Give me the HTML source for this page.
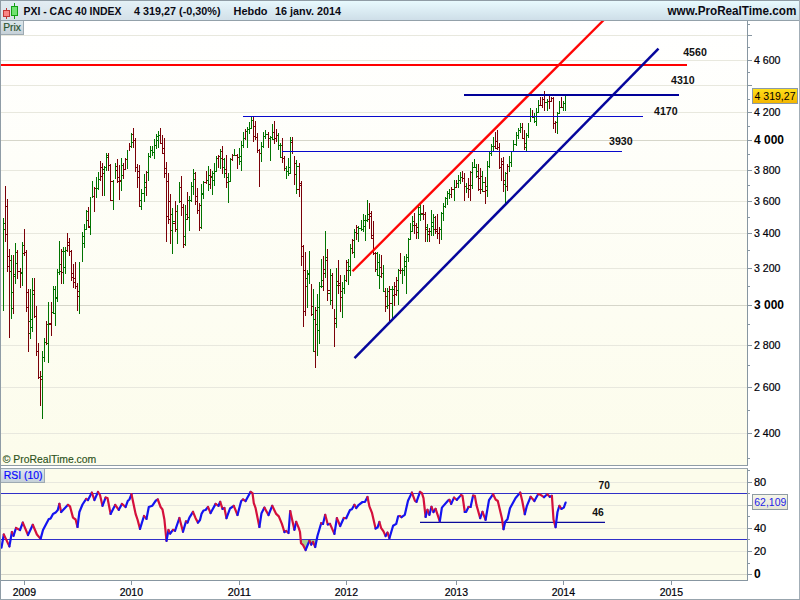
<!DOCTYPE html><html><head><meta charset="utf-8"><title>PXI - CAC 40 INDEX</title>
<style>html,body{margin:0;padding:0;background:#fff}body{width:800px;height:600px;overflow:hidden}svg{display:block}text{font-family:"Liberation Sans",Arial,sans-serif}.ax{font-size:11px;fill:#000008;stroke:#000008;stroke-width:.22px}.axb{font-size:12px;font-weight:bold;fill:#000}.lb{font-size:10px;font-weight:bold;fill:#111}</style></head><body>
<svg width="800" height="600" viewBox="0 0 800 600">
<defs><linearGradient id="hd" x1="0" y1="0" x2="1" y2="0"><stop offset="0" stop-color="#d2dee8"/><stop offset="1" stop-color="#e6f2f8"/></linearGradient><linearGradient id="hdv" x1="0" y1="0" x2="0" y2="1"><stop offset="0" stop-color="#c4d6e2" stop-opacity=".55"/><stop offset="1" stop-color="#ffffff" stop-opacity=".25"/></linearGradient><linearGradient id="hl" x1="0" y1="0" x2="0" y2="1"><stop offset="0" stop-color="#e3ecf2"/><stop offset="1" stop-color="#d8e2e9"/></linearGradient><linearGradient id="hr" x1="0" y1="0" x2="0" y2="1"><stop offset="0" stop-color="#e9fbff"/><stop offset="1" stop-color="#cddde7"/></linearGradient><linearGradient id="hmg" x1="0" y1="0" x2="1" y2="0"><stop offset="0" stop-color="#000"/><stop offset=".4" stop-color="#fff"/></linearGradient><mask id="hm" maskUnits="userSpaceOnUse" x="0" y="0" width="800" height="21"><rect x="0" y="0" width="800" height="21" fill="url(#hmg)"/></mask><linearGradient id="bg" x1="0" y1="0" x2="0" y2="1"><stop offset="0" stop-color="#ffffff"/><stop offset="1" stop-color="#fcfceb"/></linearGradient><linearGradient id="tab" x1="0" y1="0" x2="0" y2="1"><stop offset="0" stop-color="#dde7ec"/><stop offset="1" stop-color="#c4cfd7"/></linearGradient><linearGradient id="yl" x1="0" y1="0" x2="0" y2="1"><stop offset="0" stop-color="#ffe11a"/><stop offset="1" stop-color="#f3b400"/></linearGradient><linearGradient id="rl" x1="0" y1="0" x2="0" y2="1"><stop offset="0" stop-color="#f6f6ea"/><stop offset="1" stop-color="#e6e6d4"/></linearGradient><clipPath id="cp"><rect x="1" y="21" width="746" height="444"/></clipPath><clipPath id="cr"><rect x="1" y="469" width="746" height="111"/></clipPath></defs>
<rect x="0" y="0" width="800" height="600" fill="#fff"/>
<rect x="0" y="0" width="800" height="21" fill="url(#hl)"/>
<rect x="0" y="0" width="800" height="21" fill="url(#hr)" mask="url(#hm)"/>
<g shape-rendering="crispEdges">
<rect x="0" y="0" width="800" height="1" fill="#8f9ca5"/>
<rect x="0" y="20" width="800" height="1" fill="#93a1aa"/>
<rect x="1" y="21" width="746" height="444" fill="url(#bg)"/>
<rect x="1" y="469" width="746" height="111" fill="#fcfceb"/>
<rect x="1" y="433" width="746" height="1" fill="#e8e8de"/>
<rect x="1" y="387" width="746" height="1" fill="#e8e8de"/>
<rect x="1" y="345" width="746" height="1" fill="#e8e8de"/>
<rect x="1" y="305" width="746" height="1" fill="#d6d6ca"/>
<rect x="1" y="268" width="746" height="1" fill="#e8e8de"/>
<rect x="1" y="233" width="746" height="1" fill="#e8e8de"/>
<rect x="1" y="201" width="746" height="1" fill="#e8e8de"/>
<rect x="1" y="170" width="746" height="1" fill="#e8e8de"/>
<rect x="1" y="140" width="746" height="1" fill="#d6d6ca"/>
<rect x="1" y="112" width="746" height="1" fill="#e8e8de"/>
<rect x="1" y="85" width="746" height="1" fill="#e8e8de"/>
<rect x="1" y="60" width="746" height="1" fill="#e8e8de"/>
<rect x="1" y="35" width="746" height="1" fill="#e8e8de"/>
<rect x="1" y="574" width="746" height="1" fill="#d6d6ca"/>
<rect x="1" y="551" width="746" height="1" fill="#e8e8de"/>
<rect x="1" y="528" width="746" height="1" fill="#e8e8de"/>
<rect x="1" y="505" width="746" height="1" fill="#e8e8de"/>
<rect x="1" y="482" width="746" height="1" fill="#e8e8de"/>
</g>
<g shape-rendering="crispEdges" clip-path="url(#cp)">
<rect x="3" y="218" width="1" height="93" fill="#007300"/>
<rect x="4" y="223" width="1" height="1" fill="#007300"/>
<rect x="4" y="229" width="1" height="1" fill="#007300"/>
<rect x="5" y="186" width="1" height="56" fill="#7a0008"/>
<rect x="6" y="206" width="1" height="1" fill="#7a0008"/>
<rect x="6" y="234" width="1" height="1" fill="#7a0008"/>
<rect x="7" y="199" width="1" height="73" fill="#7a0008"/>
<rect x="8" y="256" width="1" height="1" fill="#7a0008"/>
<rect x="8" y="266" width="1" height="1" fill="#7a0008"/>
<rect x="9" y="249" width="1" height="89" fill="#7a0008"/>
<rect x="10" y="260" width="1" height="1" fill="#7a0008"/>
<rect x="10" y="271" width="1" height="1" fill="#7a0008"/>
<rect x="11" y="255" width="1" height="64" fill="#007300"/>
<rect x="12" y="292" width="1" height="1" fill="#007300"/>
<rect x="12" y="308" width="1" height="1" fill="#007300"/>
<rect x="13" y="255" width="1" height="59" fill="#7a0008"/>
<rect x="14" y="274" width="1" height="1" fill="#007300"/>
<rect x="14" y="276" width="1" height="1" fill="#007300"/>
<rect x="15" y="243" width="1" height="41" fill="#007300"/>
<rect x="16" y="252" width="1" height="1" fill="#7a0008"/>
<rect x="16" y="263" width="1" height="1" fill="#007300"/>
<rect x="17" y="250" width="1" height="29" fill="#7a0008"/>
<rect x="18" y="271" width="2" height="1" fill="#7a0008"/>
<rect x="20" y="268" width="1" height="20" fill="#7a0008"/>
<rect x="21" y="272" width="1" height="1" fill="#007300"/>
<rect x="21" y="273" width="1" height="1" fill="#007300"/>
<rect x="22" y="242" width="1" height="44" fill="#007300"/>
<rect x="23" y="245" width="1" height="1" fill="#007300"/>
<rect x="23" y="253" width="1" height="1" fill="#7a0008"/>
<rect x="24" y="229" width="1" height="27" fill="#7a0008"/>
<rect x="25" y="252" width="1" height="1" fill="#7a0008"/>
<rect x="26" y="250" width="1" height="62" fill="#7a0008"/>
<rect x="27" y="292" width="1" height="1" fill="#7a0008"/>
<rect x="27" y="307" width="1" height="1" fill="#7a0008"/>
<rect x="28" y="289" width="1" height="63" fill="#7a0008"/>
<rect x="29" y="321" width="1" height="1" fill="#007300"/>
<rect x="29" y="333" width="1" height="1" fill="#007300"/>
<rect x="30" y="289" width="1" height="50" fill="#007300"/>
<rect x="31" y="319" width="1" height="1" fill="#007300"/>
<rect x="31" y="327" width="1" height="1" fill="#007300"/>
<rect x="32" y="278" width="1" height="54" fill="#007300"/>
<rect x="33" y="290" width="1" height="1" fill="#7a0008"/>
<rect x="33" y="294" width="1" height="1" fill="#007300"/>
<rect x="34" y="278" width="1" height="40" fill="#7a0008"/>
<rect x="35" y="316" width="1" height="1" fill="#7a0008"/>
<rect x="36" y="306" width="1" height="50" fill="#7a0008"/>
<rect x="37" y="351" width="1" height="1" fill="#7a0008"/>
<rect x="38" y="343" width="1" height="36" fill="#7a0008"/>
<rect x="39" y="377" width="1" height="1" fill="#7a0008"/>
<rect x="40" y="371" width="1" height="35" fill="#7a0008"/>
<rect x="41" y="376" width="1" height="1" fill="#007300"/>
<rect x="41" y="379" width="1" height="1" fill="#7a0008"/>
<rect x="42" y="351" width="1" height="68" fill="#007300"/>
<rect x="43" y="357" width="1" height="1" fill="#007300"/>
<rect x="44" y="338" width="1" height="24" fill="#007300"/>
<rect x="45" y="342" width="1" height="1" fill="#007300"/>
<rect x="46" y="321" width="1" height="24" fill="#7a0008"/>
<rect x="47" y="324" width="1" height="1" fill="#007300"/>
<rect x="47" y="343" width="1" height="1" fill="#007300"/>
<rect x="48" y="302" width="1" height="61" fill="#007300"/>
<rect x="49" y="323" width="2" height="1" fill="#7a0008"/>
<rect x="49" y="324" width="2" height="1" fill="#7a0008"/>
<rect x="51" y="302" width="1" height="34" fill="#7a0008"/>
<rect x="52" y="312" width="1" height="1" fill="#007300"/>
<rect x="53" y="286" width="1" height="28" fill="#007300"/>
<rect x="54" y="289" width="1" height="1" fill="#007300"/>
<rect x="54" y="313" width="1" height="1" fill="#007300"/>
<rect x="55" y="286" width="1" height="40" fill="#007300"/>
<rect x="56" y="297" width="1" height="1" fill="#007300"/>
<rect x="56" y="298" width="1" height="1" fill="#007300"/>
<rect x="57" y="269" width="1" height="33" fill="#007300"/>
<rect x="58" y="272" width="1" height="1" fill="#007300"/>
<rect x="59" y="241" width="1" height="34" fill="#007300"/>
<rect x="60" y="264" width="1" height="1" fill="#007300"/>
<rect x="60" y="271" width="1" height="1" fill="#007300"/>
<rect x="61" y="249" width="1" height="35" fill="#7a0008"/>
<rect x="62" y="251" width="1" height="1" fill="#007300"/>
<rect x="62" y="272" width="1" height="1" fill="#7a0008"/>
<rect x="63" y="247" width="1" height="37" fill="#007300"/>
<rect x="64" y="251" width="1" height="1" fill="#007300"/>
<rect x="64" y="267" width="1" height="1" fill="#007300"/>
<rect x="65" y="247" width="1" height="27" fill="#007300"/>
<rect x="66" y="250" width="1" height="1" fill="#007300"/>
<rect x="67" y="233" width="1" height="19" fill="#7a0008"/>
<rect x="68" y="242" width="1" height="1" fill="#7a0008"/>
<rect x="68" y="245" width="1" height="1" fill="#7a0008"/>
<rect x="69" y="238" width="1" height="18" fill="#7a0008"/>
<rect x="70" y="251" width="1" height="1" fill="#7a0008"/>
<rect x="71" y="250" width="1" height="31" fill="#7a0008"/>
<rect x="72" y="273" width="1" height="1" fill="#7a0008"/>
<rect x="72" y="277" width="1" height="1" fill="#7a0008"/>
<rect x="73" y="264" width="1" height="24" fill="#7a0008"/>
<rect x="74" y="278" width="1" height="1" fill="#7a0008"/>
<rect x="74" y="282" width="1" height="1" fill="#7a0008"/>
<rect x="75" y="262" width="1" height="27" fill="#7a0008"/>
<rect x="76" y="286" width="1" height="1" fill="#7a0008"/>
<rect x="77" y="283" width="1" height="28" fill="#7a0008"/>
<rect x="78" y="291" width="1" height="1" fill="#7a0008"/>
<rect x="78" y="296" width="1" height="1" fill="#7a0008"/>
<rect x="79" y="262" width="1" height="52" fill="#007300"/>
<rect x="82" y="232" width="1" height="30" fill="#007300"/>
<rect x="83" y="236" width="1" height="1" fill="#007300"/>
<rect x="83" y="243" width="1" height="1" fill="#007300"/>
<rect x="84" y="224" width="1" height="24" fill="#007300"/>
<rect x="85" y="229" width="1" height="1" fill="#007300"/>
<rect x="86" y="210" width="1" height="20" fill="#007300"/>
<rect x="87" y="211" width="1" height="1" fill="#007300"/>
<rect x="87" y="220" width="1" height="1" fill="#7a0008"/>
<rect x="88" y="207" width="1" height="21" fill="#7a0008"/>
<rect x="89" y="226" width="1" height="1" fill="#7a0008"/>
<rect x="89" y="227" width="1" height="1" fill="#7a0008"/>
<rect x="90" y="197" width="1" height="38" fill="#007300"/>
<rect x="92" y="181" width="1" height="17" fill="#007300"/>
<rect x="93" y="196" width="1" height="1" fill="#7a0008"/>
<rect x="94" y="187" width="1" height="25" fill="#7a0008"/>
<rect x="95" y="188" width="1" height="1" fill="#7a0008"/>
<rect x="96" y="177" width="1" height="21" fill="#007300"/>
<rect x="97" y="188" width="1" height="1" fill="#007300"/>
<rect x="98" y="172" width="1" height="18" fill="#007300"/>
<rect x="99" y="179" width="1" height="1" fill="#007300"/>
<rect x="100" y="161" width="1" height="20" fill="#7a0008"/>
<rect x="101" y="167" width="1" height="1" fill="#7a0008"/>
<rect x="101" y="176" width="1" height="1" fill="#7a0008"/>
<rect x="102" y="163" width="1" height="33" fill="#7a0008"/>
<rect x="103" y="169" width="1" height="1" fill="#007300"/>
<rect x="103" y="173" width="1" height="1" fill="#7a0008"/>
<rect x="104" y="166" width="1" height="30" fill="#007300"/>
<rect x="105" y="167" width="1" height="1" fill="#007300"/>
<rect x="106" y="153" width="1" height="18" fill="#007300"/>
<rect x="107" y="155" width="1" height="1" fill="#007300"/>
<rect x="107" y="157" width="1" height="1" fill="#007300"/>
<rect x="108" y="153" width="1" height="18" fill="#7a0008"/>
<rect x="109" y="165" width="1" height="1" fill="#7a0008"/>
<rect x="110" y="164" width="1" height="37" fill="#7a0008"/>
<rect x="111" y="181" width="2" height="1" fill="#7a0008"/>
<rect x="111" y="200" width="2" height="1" fill="#7a0008"/>
<rect x="113" y="180" width="1" height="30" fill="#007300"/>
<rect x="115" y="163" width="1" height="16" fill="#007300"/>
<rect x="116" y="166" width="1" height="1" fill="#7a0008"/>
<rect x="116" y="170" width="1" height="1" fill="#7a0008"/>
<rect x="117" y="159" width="1" height="24" fill="#7a0008"/>
<rect x="118" y="177" width="1" height="1" fill="#7a0008"/>
<rect x="118" y="181" width="1" height="1" fill="#7a0008"/>
<rect x="119" y="165" width="1" height="35" fill="#7a0008"/>
<rect x="120" y="180" width="1" height="1" fill="#7a0008"/>
<rect x="120" y="181" width="1" height="1" fill="#7a0008"/>
<rect x="121" y="158" width="1" height="33" fill="#007300"/>
<rect x="122" y="165" width="1" height="1" fill="#007300"/>
<rect x="122" y="175" width="1" height="1" fill="#007300"/>
<rect x="123" y="163" width="1" height="16" fill="#7a0008"/>
<rect x="124" y="169" width="1" height="1" fill="#7a0008"/>
<rect x="125" y="158" width="1" height="12" fill="#7a0008"/>
<rect x="126" y="159" width="1" height="1" fill="#7a0008"/>
<rect x="127" y="150" width="1" height="19" fill="#007300"/>
<rect x="129" y="143" width="1" height="8" fill="#7a0008"/>
<rect x="130" y="146" width="1" height="1" fill="#7a0008"/>
<rect x="131" y="133" width="1" height="15" fill="#007300"/>
<rect x="132" y="134" width="1" height="1" fill="#7a0008"/>
<rect x="132" y="142" width="1" height="1" fill="#007300"/>
<rect x="133" y="128" width="1" height="20" fill="#7a0008"/>
<rect x="134" y="140" width="1" height="1" fill="#7a0008"/>
<rect x="135" y="138" width="1" height="34" fill="#7a0008"/>
<rect x="136" y="167" width="1" height="1" fill="#7a0008"/>
<rect x="137" y="164" width="1" height="24" fill="#7a0008"/>
<rect x="138" y="171" width="1" height="1" fill="#7a0008"/>
<rect x="138" y="177" width="1" height="1" fill="#7a0008"/>
<rect x="139" y="165" width="1" height="42" fill="#7a0008"/>
<rect x="140" y="200" width="1" height="1" fill="#007300"/>
<rect x="140" y="206" width="1" height="1" fill="#007300"/>
<rect x="141" y="189" width="1" height="21" fill="#007300"/>
<rect x="142" y="193" width="2" height="1" fill="#007300"/>
<rect x="144" y="174" width="1" height="28" fill="#007300"/>
<rect x="145" y="182" width="1" height="1" fill="#007300"/>
<rect x="145" y="187" width="1" height="1" fill="#007300"/>
<rect x="146" y="171" width="1" height="25" fill="#7a0008"/>
<rect x="147" y="172" width="1" height="1" fill="#007300"/>
<rect x="148" y="153" width="1" height="28" fill="#007300"/>
<rect x="149" y="156" width="1" height="1" fill="#007300"/>
<rect x="150" y="146" width="1" height="12" fill="#007300"/>
<rect x="151" y="150" width="1" height="1" fill="#007300"/>
<rect x="152" y="146" width="1" height="10" fill="#007300"/>
<rect x="153" y="152" width="1" height="1" fill="#007300"/>
<rect x="154" y="139" width="1" height="20" fill="#007300"/>
<rect x="155" y="145" width="1" height="1" fill="#007300"/>
<rect x="156" y="134" width="1" height="15" fill="#007300"/>
<rect x="157" y="136" width="1" height="1" fill="#007300"/>
<rect x="157" y="140" width="1" height="1" fill="#007300"/>
<rect x="158" y="131" width="1" height="17" fill="#007300"/>
<rect x="159" y="135" width="1" height="1" fill="#007300"/>
<rect x="160" y="128" width="1" height="16" fill="#7a0008"/>
<rect x="161" y="143" width="1" height="1" fill="#7a0008"/>
<rect x="162" y="135" width="1" height="19" fill="#7a0008"/>
<rect x="163" y="148" width="1" height="1" fill="#7a0008"/>
<rect x="163" y="153" width="1" height="1" fill="#7a0008"/>
<rect x="164" y="138" width="1" height="40" fill="#7a0008"/>
<rect x="165" y="168" width="1" height="1" fill="#7a0008"/>
<rect x="165" y="173" width="1" height="1" fill="#7a0008"/>
<rect x="166" y="162" width="1" height="80" fill="#7a0008"/>
<rect x="167" y="181" width="1" height="1" fill="#7a0008"/>
<rect x="167" y="216" width="1" height="1" fill="#7a0008"/>
<rect x="168" y="173" width="1" height="51" fill="#7a0008"/>
<rect x="169" y="201" width="1" height="1" fill="#7a0008"/>
<rect x="169" y="219" width="1" height="1" fill="#7a0008"/>
<rect x="170" y="194" width="1" height="50" fill="#7a0008"/>
<rect x="171" y="214" width="1" height="1" fill="#007300"/>
<rect x="171" y="230" width="1" height="1" fill="#007300"/>
<rect x="172" y="208" width="1" height="46" fill="#007300"/>
<rect x="173" y="221" width="2" height="1" fill="#007300"/>
<rect x="173" y="223" width="2" height="1" fill="#7a0008"/>
<rect x="175" y="201" width="1" height="31" fill="#7a0008"/>
<rect x="176" y="211" width="1" height="1" fill="#7a0008"/>
<rect x="176" y="229" width="1" height="1" fill="#7a0008"/>
<rect x="177" y="205" width="1" height="39" fill="#007300"/>
<rect x="179" y="182" width="1" height="21" fill="#007300"/>
<rect x="180" y="187" width="1" height="1" fill="#7a0008"/>
<rect x="180" y="201" width="1" height="1" fill="#7a0008"/>
<rect x="181" y="176" width="1" height="40" fill="#7a0008"/>
<rect x="182" y="207" width="1" height="1" fill="#7a0008"/>
<rect x="183" y="204" width="1" height="44" fill="#7a0008"/>
<rect x="184" y="236" width="1" height="1" fill="#007300"/>
<rect x="184" y="244" width="1" height="1" fill="#7a0008"/>
<rect x="185" y="205" width="1" height="41" fill="#007300"/>
<rect x="186" y="214" width="1" height="1" fill="#007300"/>
<rect x="186" y="219" width="1" height="1" fill="#007300"/>
<rect x="187" y="192" width="1" height="28" fill="#7a0008"/>
<rect x="188" y="200" width="1" height="1" fill="#007300"/>
<rect x="188" y="217" width="1" height="1" fill="#007300"/>
<rect x="189" y="196" width="1" height="35" fill="#007300"/>
<rect x="190" y="200" width="1" height="1" fill="#007300"/>
<rect x="191" y="182" width="1" height="20" fill="#007300"/>
<rect x="192" y="186" width="1" height="1" fill="#007300"/>
<rect x="193" y="169" width="1" height="26" fill="#007300"/>
<rect x="194" y="173" width="1" height="1" fill="#007300"/>
<rect x="194" y="179" width="1" height="1" fill="#007300"/>
<rect x="195" y="172" width="1" height="33" fill="#7a0008"/>
<rect x="196" y="196" width="1" height="1" fill="#7a0008"/>
<rect x="196" y="201" width="1" height="1" fill="#7a0008"/>
<rect x="197" y="188" width="1" height="26" fill="#7a0008"/>
<rect x="198" y="210" width="1" height="1" fill="#7a0008"/>
<rect x="199" y="203" width="1" height="28" fill="#7a0008"/>
<rect x="200" y="205" width="1" height="1" fill="#7a0008"/>
<rect x="200" y="227" width="1" height="1" fill="#7a0008"/>
<rect x="201" y="184" width="1" height="45" fill="#007300"/>
<rect x="202" y="193" width="1" height="1" fill="#007300"/>
<rect x="202" y="194" width="1" height="1" fill="#007300"/>
<rect x="203" y="181" width="1" height="18" fill="#007300"/>
<rect x="204" y="182" width="2" height="1" fill="#7a0008"/>
<rect x="206" y="171" width="1" height="13" fill="#7a0008"/>
<rect x="207" y="180" width="1" height="1" fill="#007300"/>
<rect x="208" y="166" width="1" height="25" fill="#007300"/>
<rect x="209" y="175" width="1" height="1" fill="#7a0008"/>
<rect x="209" y="184" width="1" height="1" fill="#7a0008"/>
<rect x="210" y="169" width="1" height="20" fill="#7a0008"/>
<rect x="211" y="176" width="1" height="1" fill="#7a0008"/>
<rect x="211" y="177" width="1" height="1" fill="#007300"/>
<rect x="212" y="171" width="1" height="24" fill="#007300"/>
<rect x="213" y="173" width="1" height="1" fill="#007300"/>
<rect x="213" y="180" width="1" height="1" fill="#007300"/>
<rect x="214" y="163" width="1" height="23" fill="#007300"/>
<rect x="215" y="171" width="1" height="1" fill="#007300"/>
<rect x="216" y="156" width="1" height="16" fill="#007300"/>
<rect x="217" y="158" width="1" height="1" fill="#7a0008"/>
<rect x="218" y="155" width="1" height="13" fill="#7a0008"/>
<rect x="219" y="156" width="1" height="1" fill="#7a0008"/>
<rect x="220" y="149" width="1" height="20" fill="#007300"/>
<rect x="221" y="151" width="1" height="1" fill="#7a0008"/>
<rect x="221" y="158" width="1" height="1" fill="#7a0008"/>
<rect x="222" y="146" width="1" height="28" fill="#7a0008"/>
<rect x="223" y="159" width="1" height="1" fill="#007300"/>
<rect x="223" y="167" width="1" height="1" fill="#007300"/>
<rect x="224" y="158" width="1" height="20" fill="#007300"/>
<rect x="225" y="169" width="1" height="1" fill="#7a0008"/>
<rect x="225" y="173" width="1" height="1" fill="#7a0008"/>
<rect x="226" y="155" width="1" height="33" fill="#7a0008"/>
<rect x="227" y="177" width="1" height="1" fill="#007300"/>
<rect x="227" y="182" width="1" height="1" fill="#7a0008"/>
<rect x="228" y="173" width="1" height="30" fill="#007300"/>
<rect x="229" y="181" width="1" height="1" fill="#007300"/>
<rect x="230" y="158" width="1" height="24" fill="#007300"/>
<rect x="231" y="159" width="1" height="1" fill="#7a0008"/>
<rect x="232" y="154" width="1" height="7" fill="#7a0008"/>
<rect x="233" y="155" width="1" height="1" fill="#007300"/>
<rect x="234" y="149" width="1" height="7" fill="#007300"/>
<rect x="235" y="155" width="2" height="1" fill="#7a0008"/>
<rect x="237" y="154" width="1" height="15" fill="#7a0008"/>
<rect x="238" y="157" width="1" height="1" fill="#7a0008"/>
<rect x="239" y="148" width="1" height="17" fill="#007300"/>
<rect x="240" y="156" width="1" height="1" fill="#007300"/>
<rect x="240" y="161" width="1" height="1" fill="#007300"/>
<rect x="241" y="141" width="1" height="30" fill="#007300"/>
<rect x="242" y="145" width="1" height="1" fill="#007300"/>
<rect x="243" y="132" width="1" height="16" fill="#007300"/>
<rect x="244" y="138" width="1" height="1" fill="#007300"/>
<rect x="245" y="129" width="1" height="11" fill="#7a0008"/>
<rect x="246" y="131" width="1" height="1" fill="#007300"/>
<rect x="247" y="127" width="1" height="21" fill="#007300"/>
<rect x="248" y="129" width="1" height="1" fill="#007300"/>
<rect x="249" y="122" width="1" height="12" fill="#007300"/>
<rect x="250" y="128" width="1" height="1" fill="#007300"/>
<rect x="251" y="117" width="1" height="12" fill="#007300"/>
<rect x="252" y="120" width="1" height="1" fill="#007300"/>
<rect x="253" y="117" width="1" height="25" fill="#7a0008"/>
<rect x="254" y="126" width="1" height="1" fill="#7a0008"/>
<rect x="254" y="136" width="1" height="1" fill="#7a0008"/>
<rect x="255" y="121" width="1" height="19" fill="#7a0008"/>
<rect x="256" y="137" width="1" height="1" fill="#7a0008"/>
<rect x="257" y="133" width="1" height="20" fill="#7a0008"/>
<rect x="258" y="150" width="1" height="1" fill="#7a0008"/>
<rect x="259" y="149" width="1" height="38" fill="#7a0008"/>
<rect x="260" y="153" width="1" height="1" fill="#7a0008"/>
<rect x="261" y="142" width="1" height="20" fill="#007300"/>
<rect x="262" y="146" width="1" height="1" fill="#007300"/>
<rect x="263" y="132" width="1" height="16" fill="#007300"/>
<rect x="264" y="136" width="1" height="1" fill="#007300"/>
<rect x="265" y="130" width="1" height="9" fill="#007300"/>
<rect x="266" y="134" width="2" height="1" fill="#007300"/>
<rect x="268" y="132" width="1" height="16" fill="#7a0008"/>
<rect x="269" y="138" width="1" height="1" fill="#007300"/>
<rect x="270" y="136" width="1" height="25" fill="#007300"/>
<rect x="271" y="137" width="1" height="1" fill="#007300"/>
<rect x="272" y="124" width="1" height="16" fill="#007300"/>
<rect x="273" y="132" width="1" height="1" fill="#7a0008"/>
<rect x="273" y="139" width="1" height="1" fill="#007300"/>
<rect x="274" y="121" width="1" height="23" fill="#7a0008"/>
<rect x="275" y="138" width="1" height="1" fill="#7a0008"/>
<rect x="276" y="129" width="1" height="13" fill="#7a0008"/>
<rect x="277" y="135" width="1" height="1" fill="#7a0008"/>
<rect x="278" y="133" width="1" height="17" fill="#007300"/>
<rect x="279" y="145" width="1" height="1" fill="#007300"/>
<rect x="280" y="143" width="1" height="15" fill="#007300"/>
<rect x="281" y="145" width="1" height="1" fill="#007300"/>
<rect x="281" y="157" width="1" height="1" fill="#007300"/>
<rect x="282" y="138" width="1" height="25" fill="#7a0008"/>
<rect x="283" y="158" width="1" height="1" fill="#7a0008"/>
<rect x="284" y="156" width="1" height="15" fill="#7a0008"/>
<rect x="285" y="168" width="1" height="1" fill="#007300"/>
<rect x="286" y="166" width="1" height="13" fill="#007300"/>
<rect x="287" y="171" width="1" height="1" fill="#007300"/>
<rect x="288" y="158" width="1" height="18" fill="#007300"/>
<rect x="289" y="167" width="1" height="1" fill="#007300"/>
<rect x="289" y="173" width="1" height="1" fill="#007300"/>
<rect x="290" y="137" width="1" height="37" fill="#007300"/>
<rect x="291" y="140" width="1" height="1" fill="#007300"/>
<rect x="291" y="142" width="1" height="1" fill="#7a0008"/>
<rect x="292" y="137" width="1" height="17" fill="#7a0008"/>
<rect x="294" y="156" width="1" height="29" fill="#7a0008"/>
<rect x="295" y="163" width="1" height="1" fill="#7a0008"/>
<rect x="295" y="174" width="1" height="1" fill="#7a0008"/>
<rect x="296" y="160" width="1" height="34" fill="#007300"/>
<rect x="297" y="166" width="2" height="1" fill="#007300"/>
<rect x="297" y="189" width="2" height="1" fill="#7a0008"/>
<rect x="299" y="163" width="1" height="34" fill="#7a0008"/>
<rect x="300" y="183" width="1" height="1" fill="#7a0008"/>
<rect x="300" y="185" width="1" height="1" fill="#7a0008"/>
<rect x="301" y="181" width="1" height="85" fill="#7a0008"/>
<rect x="302" y="246" width="1" height="1" fill="#7a0008"/>
<rect x="302" y="256" width="1" height="1" fill="#7a0008"/>
<rect x="303" y="245" width="1" height="82" fill="#7a0008"/>
<rect x="304" y="270" width="1" height="1" fill="#7a0008"/>
<rect x="304" y="311" width="1" height="1" fill="#7a0008"/>
<rect x="305" y="252" width="1" height="64" fill="#7a0008"/>
<rect x="306" y="278" width="1" height="1" fill="#007300"/>
<rect x="306" y="286" width="1" height="1" fill="#7a0008"/>
<rect x="307" y="270" width="1" height="38" fill="#007300"/>
<rect x="308" y="273" width="1" height="1" fill="#007300"/>
<rect x="308" y="274" width="1" height="1" fill="#007300"/>
<rect x="309" y="251" width="1" height="33" fill="#007300"/>
<rect x="311" y="284" width="1" height="32" fill="#7a0008"/>
<rect x="312" y="306" width="1" height="1" fill="#7a0008"/>
<rect x="312" y="314" width="1" height="1" fill="#7a0008"/>
<rect x="313" y="289" width="1" height="63" fill="#007300"/>
<rect x="314" y="319" width="1" height="1" fill="#007300"/>
<rect x="314" y="351" width="1" height="1" fill="#7a0008"/>
<rect x="315" y="307" width="1" height="61" fill="#7a0008"/>
<rect x="316" y="310" width="1" height="1" fill="#7a0008"/>
<rect x="316" y="324" width="1" height="1" fill="#007300"/>
<rect x="317" y="294" width="1" height="62" fill="#007300"/>
<rect x="318" y="307" width="1" height="1" fill="#007300"/>
<rect x="318" y="330" width="1" height="1" fill="#007300"/>
<rect x="319" y="282" width="1" height="62" fill="#007300"/>
<rect x="320" y="286" width="1" height="1" fill="#007300"/>
<rect x="321" y="259" width="1" height="29" fill="#007300"/>
<rect x="322" y="280" width="1" height="1" fill="#007300"/>
<rect x="322" y="286" width="1" height="1" fill="#007300"/>
<rect x="323" y="256" width="1" height="35" fill="#7a0008"/>
<rect x="324" y="269" width="1" height="1" fill="#7a0008"/>
<rect x="324" y="273" width="1" height="1" fill="#7a0008"/>
<rect x="325" y="231" width="1" height="47" fill="#007300"/>
<rect x="326" y="257" width="1" height="1" fill="#007300"/>
<rect x="326" y="260" width="1" height="1" fill="#7a0008"/>
<rect x="327" y="249" width="1" height="52" fill="#7a0008"/>
<rect x="328" y="290" width="2" height="1" fill="#7a0008"/>
<rect x="328" y="293" width="2" height="1" fill="#007300"/>
<rect x="330" y="269" width="1" height="36" fill="#007300"/>
<rect x="331" y="275" width="1" height="1" fill="#007300"/>
<rect x="331" y="300" width="1" height="1" fill="#007300"/>
<rect x="332" y="273" width="1" height="36" fill="#7a0008"/>
<rect x="334" y="309" width="1" height="38" fill="#7a0008"/>
<rect x="335" y="318" width="1" height="1" fill="#7a0008"/>
<rect x="335" y="323" width="1" height="1" fill="#7a0008"/>
<rect x="336" y="268" width="1" height="60" fill="#007300"/>
<rect x="337" y="281" width="1" height="1" fill="#7a0008"/>
<rect x="337" y="285" width="1" height="1" fill="#007300"/>
<rect x="338" y="260" width="1" height="34" fill="#7a0008"/>
<rect x="339" y="283" width="1" height="1" fill="#7a0008"/>
<rect x="339" y="285" width="1" height="1" fill="#7a0008"/>
<rect x="340" y="275" width="1" height="37" fill="#7a0008"/>
<rect x="341" y="291" width="1" height="1" fill="#7a0008"/>
<rect x="341" y="297" width="1" height="1" fill="#7a0008"/>
<rect x="342" y="282" width="1" height="36" fill="#007300"/>
<rect x="343" y="288" width="1" height="1" fill="#007300"/>
<rect x="344" y="275" width="1" height="19" fill="#007300"/>
<rect x="345" y="280" width="1" height="1" fill="#007300"/>
<rect x="346" y="260" width="1" height="22" fill="#7a0008"/>
<rect x="347" y="262" width="1" height="1" fill="#7a0008"/>
<rect x="347" y="270" width="1" height="1" fill="#7a0008"/>
<rect x="348" y="259" width="1" height="26" fill="#007300"/>
<rect x="349" y="266" width="1" height="1" fill="#007300"/>
<rect x="349" y="270" width="1" height="1" fill="#007300"/>
<rect x="350" y="244" width="1" height="32" fill="#007300"/>
<rect x="351" y="248" width="1" height="1" fill="#007300"/>
<rect x="352" y="239" width="1" height="15" fill="#7a0008"/>
<rect x="353" y="240" width="1" height="1" fill="#7a0008"/>
<rect x="353" y="252" width="1" height="1" fill="#007300"/>
<rect x="354" y="229" width="1" height="29" fill="#007300"/>
<rect x="355" y="232" width="1" height="1" fill="#007300"/>
<rect x="356" y="225" width="1" height="15" fill="#7a0008"/>
<rect x="357" y="227" width="1" height="1" fill="#7a0008"/>
<rect x="357" y="233" width="1" height="1" fill="#7a0008"/>
<rect x="358" y="226" width="1" height="16" fill="#007300"/>
<rect x="359" y="228" width="2" height="1" fill="#007300"/>
<rect x="361" y="220" width="1" height="11" fill="#007300"/>
<rect x="362" y="229" width="1" height="1" fill="#007300"/>
<rect x="363" y="214" width="1" height="18" fill="#007300"/>
<rect x="364" y="220" width="1" height="1" fill="#007300"/>
<rect x="364" y="226" width="1" height="1" fill="#007300"/>
<rect x="365" y="215" width="1" height="26" fill="#007300"/>
<rect x="366" y="220" width="1" height="1" fill="#007300"/>
<rect x="367" y="200" width="1" height="22" fill="#007300"/>
<rect x="368" y="214" width="1" height="1" fill="#007300"/>
<rect x="368" y="219" width="1" height="1" fill="#7a0008"/>
<rect x="369" y="203" width="1" height="26" fill="#7a0008"/>
<rect x="370" y="213" width="1" height="1" fill="#7a0008"/>
<rect x="370" y="216" width="1" height="1" fill="#7a0008"/>
<rect x="371" y="211" width="1" height="28" fill="#7a0008"/>
<rect x="372" y="235" width="1" height="1" fill="#7a0008"/>
<rect x="372" y="238" width="1" height="1" fill="#7a0008"/>
<rect x="373" y="221" width="1" height="34" fill="#7a0008"/>
<rect x="374" y="253" width="1" height="1" fill="#7a0008"/>
<rect x="375" y="252" width="1" height="20" fill="#7a0008"/>
<rect x="376" y="253" width="1" height="1" fill="#007300"/>
<rect x="376" y="269" width="1" height="1" fill="#007300"/>
<rect x="377" y="252" width="1" height="24" fill="#007300"/>
<rect x="378" y="262" width="1" height="1" fill="#007300"/>
<rect x="378" y="275" width="1" height="1" fill="#007300"/>
<rect x="379" y="254" width="1" height="35" fill="#007300"/>
<rect x="380" y="267" width="1" height="1" fill="#7a0008"/>
<rect x="380" y="276" width="1" height="1" fill="#007300"/>
<rect x="381" y="255" width="1" height="23" fill="#7a0008"/>
<rect x="382" y="273" width="1" height="1" fill="#007300"/>
<rect x="383" y="265" width="1" height="27" fill="#007300"/>
<rect x="384" y="291" width="1" height="1" fill="#007300"/>
<rect x="385" y="288" width="1" height="24" fill="#7a0008"/>
<rect x="386" y="296" width="1" height="1" fill="#7a0008"/>
<rect x="386" y="306" width="1" height="1" fill="#7a0008"/>
<rect x="387" y="288" width="1" height="21" fill="#007300"/>
<rect x="388" y="291" width="1" height="1" fill="#7a0008"/>
<rect x="388" y="305" width="1" height="1" fill="#007300"/>
<rect x="389" y="286" width="1" height="35" fill="#7a0008"/>
<rect x="390" y="289" width="2" height="1" fill="#007300"/>
<rect x="390" y="303" width="2" height="1" fill="#7a0008"/>
<rect x="392" y="286" width="1" height="32" fill="#007300"/>
<rect x="393" y="289" width="1" height="1" fill="#007300"/>
<rect x="393" y="295" width="1" height="1" fill="#7a0008"/>
<rect x="394" y="282" width="1" height="24" fill="#7a0008"/>
<rect x="395" y="286" width="1" height="1" fill="#7a0008"/>
<rect x="395" y="294" width="1" height="1" fill="#7a0008"/>
<rect x="396" y="277" width="1" height="19" fill="#7a0008"/>
<rect x="397" y="280" width="1" height="1" fill="#7a0008"/>
<rect x="397" y="290" width="1" height="1" fill="#007300"/>
<rect x="398" y="269" width="1" height="36" fill="#007300"/>
<rect x="399" y="270" width="1" height="1" fill="#7a0008"/>
<rect x="400" y="253" width="1" height="21" fill="#7a0008"/>
<rect x="401" y="270" width="1" height="1" fill="#7a0008"/>
<rect x="402" y="268" width="1" height="16" fill="#007300"/>
<rect x="403" y="270" width="1" height="1" fill="#007300"/>
<rect x="404" y="256" width="1" height="20" fill="#007300"/>
<rect x="405" y="261" width="1" height="1" fill="#007300"/>
<rect x="405" y="266" width="1" height="1" fill="#007300"/>
<rect x="406" y="254" width="1" height="40" fill="#007300"/>
<rect x="407" y="257" width="1" height="1" fill="#007300"/>
<rect x="408" y="238" width="1" height="24" fill="#007300"/>
<rect x="409" y="239" width="1" height="1" fill="#007300"/>
<rect x="410" y="223" width="1" height="17" fill="#007300"/>
<rect x="411" y="231" width="1" height="1" fill="#007300"/>
<rect x="412" y="216" width="1" height="16" fill="#007300"/>
<rect x="413" y="221" width="1" height="1" fill="#007300"/>
<rect x="413" y="225" width="1" height="1" fill="#007300"/>
<rect x="414" y="213" width="1" height="21" fill="#7a0008"/>
<rect x="415" y="225" width="1" height="1" fill="#7a0008"/>
<rect x="416" y="223" width="1" height="16" fill="#7a0008"/>
<rect x="417" y="227" width="1" height="1" fill="#7a0008"/>
<rect x="417" y="232" width="1" height="1" fill="#7a0008"/>
<rect x="418" y="206" width="1" height="33" fill="#007300"/>
<rect x="419" y="207" width="1" height="1" fill="#007300"/>
<rect x="419" y="214" width="1" height="1" fill="#007300"/>
<rect x="420" y="204" width="1" height="17" fill="#007300"/>
<rect x="421" y="213" width="2" height="1" fill="#7a0008"/>
<rect x="421" y="214" width="2" height="1" fill="#007300"/>
<rect x="423" y="205" width="1" height="15" fill="#7a0008"/>
<rect x="424" y="214" width="1" height="1" fill="#7a0008"/>
<rect x="425" y="212" width="1" height="30" fill="#7a0008"/>
<rect x="426" y="227" width="1" height="1" fill="#007300"/>
<rect x="426" y="229" width="1" height="1" fill="#7a0008"/>
<rect x="427" y="224" width="1" height="18" fill="#007300"/>
<rect x="428" y="231" width="1" height="1" fill="#7a0008"/>
<rect x="428" y="234" width="1" height="1" fill="#7a0008"/>
<rect x="429" y="228" width="1" height="14" fill="#7a0008"/>
<rect x="430" y="231" width="1" height="1" fill="#007300"/>
<rect x="431" y="210" width="1" height="26" fill="#007300"/>
<rect x="432" y="222" width="1" height="1" fill="#007300"/>
<rect x="432" y="226" width="1" height="1" fill="#007300"/>
<rect x="433" y="214" width="1" height="22" fill="#007300"/>
<rect x="434" y="217" width="1" height="1" fill="#007300"/>
<rect x="434" y="229" width="1" height="1" fill="#7a0008"/>
<rect x="435" y="216" width="1" height="18" fill="#7a0008"/>
<rect x="436" y="229" width="1" height="1" fill="#7a0008"/>
<rect x="436" y="231" width="1" height="1" fill="#7a0008"/>
<rect x="437" y="214" width="1" height="25" fill="#7a0008"/>
<rect x="438" y="233" width="1" height="1" fill="#7a0008"/>
<rect x="439" y="227" width="1" height="17" fill="#7a0008"/>
<rect x="440" y="229" width="1" height="1" fill="#007300"/>
<rect x="441" y="212" width="1" height="28" fill="#007300"/>
<rect x="442" y="213" width="1" height="1" fill="#007300"/>
<rect x="443" y="203" width="1" height="18" fill="#007300"/>
<rect x="444" y="206" width="1" height="1" fill="#007300"/>
<rect x="445" y="197" width="1" height="11" fill="#007300"/>
<rect x="446" y="198" width="1" height="1" fill="#007300"/>
<rect x="447" y="191" width="1" height="14" fill="#007300"/>
<rect x="448" y="193" width="1" height="1" fill="#007300"/>
<rect x="449" y="189" width="1" height="10" fill="#007300"/>
<rect x="450" y="194" width="1" height="1" fill="#007300"/>
<rect x="451" y="187" width="1" height="11" fill="#7a0008"/>
<rect x="452" y="189" width="2" height="1" fill="#7a0008"/>
<rect x="454" y="180" width="1" height="21" fill="#007300"/>
<rect x="455" y="187" width="1" height="1" fill="#7a0008"/>
<rect x="456" y="180" width="1" height="8" fill="#7a0008"/>
<rect x="457" y="183" width="1" height="1" fill="#007300"/>
<rect x="458" y="175" width="1" height="13" fill="#007300"/>
<rect x="459" y="180" width="1" height="1" fill="#007300"/>
<rect x="460" y="172" width="1" height="12" fill="#007300"/>
<rect x="461" y="177" width="1" height="1" fill="#007300"/>
<rect x="462" y="171" width="1" height="11" fill="#7a0008"/>
<rect x="463" y="178" width="1" height="1" fill="#7a0008"/>
<rect x="464" y="173" width="1" height="28" fill="#7a0008"/>
<rect x="465" y="186" width="1" height="1" fill="#7a0008"/>
<rect x="466" y="183" width="1" height="10" fill="#007300"/>
<rect x="467" y="188" width="1" height="1" fill="#007300"/>
<rect x="468" y="178" width="1" height="20" fill="#7a0008"/>
<rect x="469" y="185" width="1" height="1" fill="#7a0008"/>
<rect x="469" y="189" width="1" height="1" fill="#7a0008"/>
<rect x="470" y="171" width="1" height="30" fill="#7a0008"/>
<rect x="471" y="172" width="1" height="1" fill="#007300"/>
<rect x="471" y="185" width="1" height="1" fill="#007300"/>
<rect x="472" y="162" width="1" height="27" fill="#007300"/>
<rect x="473" y="167" width="1" height="1" fill="#007300"/>
<rect x="474" y="159" width="1" height="9" fill="#007300"/>
<rect x="475" y="167" width="1" height="1" fill="#007300"/>
<rect x="476" y="164" width="1" height="14" fill="#007300"/>
<rect x="477" y="171" width="1" height="1" fill="#007300"/>
<rect x="477" y="176" width="1" height="1" fill="#7a0008"/>
<rect x="478" y="164" width="1" height="27" fill="#7a0008"/>
<rect x="479" y="178" width="1" height="1" fill="#7a0008"/>
<rect x="479" y="189" width="1" height="1" fill="#7a0008"/>
<rect x="480" y="168" width="1" height="26" fill="#7a0008"/>
<rect x="481" y="176" width="1" height="1" fill="#7a0008"/>
<rect x="481" y="189" width="1" height="1" fill="#7a0008"/>
<rect x="482" y="171" width="1" height="21" fill="#007300"/>
<rect x="483" y="182" width="2" height="1" fill="#007300"/>
<rect x="483" y="191" width="2" height="1" fill="#7a0008"/>
<rect x="485" y="177" width="1" height="27" fill="#7a0008"/>
<rect x="486" y="186" width="1" height="1" fill="#007300"/>
<rect x="486" y="190" width="1" height="1" fill="#7a0008"/>
<rect x="487" y="161" width="1" height="36" fill="#007300"/>
<rect x="488" y="166" width="1" height="1" fill="#007300"/>
<rect x="489" y="152" width="1" height="16" fill="#007300"/>
<rect x="490" y="153" width="1" height="1" fill="#007300"/>
<rect x="491" y="144" width="1" height="12" fill="#007300"/>
<rect x="492" y="146" width="1" height="1" fill="#007300"/>
<rect x="493" y="137" width="1" height="14" fill="#007300"/>
<rect x="494" y="146" width="1" height="1" fill="#7a0008"/>
<rect x="495" y="132" width="1" height="17" fill="#7a0008"/>
<rect x="496" y="141" width="1" height="1" fill="#7a0008"/>
<rect x="496" y="148" width="1" height="1" fill="#7a0008"/>
<rect x="497" y="130" width="1" height="20" fill="#7a0008"/>
<rect x="498" y="147" width="1" height="1" fill="#7a0008"/>
<rect x="499" y="143" width="1" height="26" fill="#7a0008"/>
<rect x="500" y="167" width="1" height="1" fill="#7a0008"/>
<rect x="501" y="158" width="1" height="23" fill="#7a0008"/>
<rect x="502" y="161" width="1" height="1" fill="#7a0008"/>
<rect x="502" y="164" width="1" height="1" fill="#7a0008"/>
<rect x="503" y="157" width="1" height="35" fill="#7a0008"/>
<rect x="504" y="180" width="1" height="1" fill="#7a0008"/>
<rect x="504" y="184" width="1" height="1" fill="#007300"/>
<rect x="505" y="172" width="1" height="31" fill="#007300"/>
<rect x="506" y="173" width="1" height="1" fill="#007300"/>
<rect x="506" y="186" width="1" height="1" fill="#7a0008"/>
<rect x="507" y="164" width="1" height="27" fill="#7a0008"/>
<rect x="508" y="166" width="1" height="1" fill="#7a0008"/>
<rect x="509" y="156" width="1" height="16" fill="#007300"/>
<rect x="510" y="162" width="1" height="1" fill="#007300"/>
<rect x="511" y="152" width="1" height="15" fill="#007300"/>
<rect x="513" y="140" width="1" height="12" fill="#007300"/>
<rect x="514" y="144" width="2" height="1" fill="#007300"/>
<rect x="516" y="132" width="1" height="14" fill="#007300"/>
<rect x="517" y="135" width="1" height="1" fill="#007300"/>
<rect x="518" y="128" width="1" height="11" fill="#007300"/>
<rect x="519" y="130" width="1" height="1" fill="#007300"/>
<rect x="520" y="123" width="1" height="10" fill="#007300"/>
<rect x="521" y="127" width="1" height="1" fill="#007300"/>
<rect x="522" y="123" width="1" height="16" fill="#7a0008"/>
<rect x="523" y="138" width="1" height="1" fill="#7a0008"/>
<rect x="524" y="130" width="1" height="20" fill="#7a0008"/>
<rect x="525" y="143" width="1" height="1" fill="#007300"/>
<rect x="525" y="147" width="1" height="1" fill="#007300"/>
<rect x="526" y="133" width="1" height="18" fill="#007300"/>
<rect x="527" y="135" width="1" height="1" fill="#007300"/>
<rect x="528" y="123" width="1" height="15" fill="#007300"/>
<rect x="530" y="108" width="1" height="14" fill="#007300"/>
<rect x="531" y="116" width="1" height="1" fill="#7a0008"/>
<rect x="532" y="110" width="1" height="8" fill="#7a0008"/>
<rect x="533" y="117" width="1" height="1" fill="#007300"/>
<rect x="534" y="113" width="1" height="10" fill="#007300"/>
<rect x="535" y="121" width="1" height="1" fill="#007300"/>
<rect x="536" y="108" width="1" height="18" fill="#007300"/>
<rect x="537" y="112" width="1" height="1" fill="#007300"/>
<rect x="538" y="100" width="1" height="13" fill="#007300"/>
<rect x="539" y="105" width="1" height="1" fill="#7a0008"/>
<rect x="540" y="97" width="1" height="9" fill="#7a0008"/>
<rect x="541" y="105" width="1" height="1" fill="#7a0008"/>
<rect x="542" y="97" width="1" height="11" fill="#7a0008"/>
<rect x="543" y="99" width="1" height="1" fill="#7a0008"/>
<rect x="544" y="91" width="1" height="20" fill="#7a0008"/>
<rect x="545" y="102" width="2" height="1" fill="#007300"/>
<rect x="547" y="99" width="1" height="12" fill="#007300"/>
<rect x="548" y="101" width="1" height="1" fill="#7a0008"/>
<rect x="549" y="96" width="1" height="13" fill="#7a0008"/>
<rect x="550" y="101" width="1" height="1" fill="#7a0008"/>
<rect x="551" y="97" width="1" height="5" fill="#7a0008"/>
<rect x="552" y="98" width="1" height="1" fill="#7a0008"/>
<rect x="553" y="97" width="1" height="32" fill="#7a0008"/>
<rect x="554" y="123" width="1" height="1" fill="#7a0008"/>
<rect x="555" y="121" width="1" height="12" fill="#7a0008"/>
<rect x="556" y="122" width="1" height="1" fill="#007300"/>
<rect x="557" y="112" width="1" height="22" fill="#007300"/>
<rect x="558" y="113" width="1" height="1" fill="#007300"/>
<rect x="559" y="101" width="1" height="13" fill="#007300"/>
<rect x="560" y="107" width="1" height="1" fill="#007300"/>
<rect x="561" y="97" width="1" height="11" fill="#7a0008"/>
<rect x="562" y="107" width="1" height="1" fill="#7a0008"/>
<rect x="563" y="101" width="1" height="10" fill="#007300"/>
<rect x="564" y="103" width="1" height="1" fill="#007300"/>
<rect x="565" y="96" width="1" height="15" fill="#007300"/>
</g>
<g clip-path="url(#cr)">
<polygon points="300.5,540 300.0,540.0 301.0,543.2 303.0,545.0 305.6,550.0 309.4,540.8 311.25,544.5 313.0,542.0 315.25,547.0 317.5,540.0 317,540" fill="#a9d08e"/>
</g>
<g clip-path="url(#cp)" fill="none" stroke-linecap="butt">
<line x1="1" y1="65" x2="687" y2="65" stroke="#ff0000" stroke-width="2" shape-rendering="crispEdges"/>
<line x1="352.5" y1="271.25" x2="606" y2="17.75" stroke="#ff0505" stroke-width="2.3"/>
<line x1="354.5" y1="358.2" x2="658.5" y2="48.7" stroke="#06069c" stroke-width="2.5"/>
<line x1="464" y1="95" x2="679" y2="95" stroke="#000099" stroke-width="2" shape-rendering="crispEdges"/>
<rect x="243" y="116" width="400" height="1" fill="#0808cc" shape-rendering="crispEdges"/>
<rect x="282" y="151" width="340" height="1" fill="#0808cc" shape-rendering="crispEdges"/>
</g>
<g shape-rendering="crispEdges"><rect x="1" y="493" width="746" height="1" fill="#3030c8"/><rect x="1" y="539" width="746" height="1" fill="#3030c8"/></g><rect x="420" y="521.75" width="185" height="1.25" fill="#0a0a9a"/>
<g clip-path="url(#cr)" fill="none" stroke-width="2.2" stroke-linecap="round" stroke-linejoin="round">
<polyline stroke="#1414f0" points="1.5,547.6 3.8,534.5"/>
<polyline stroke="#d4103c" points="3.8,534.5 9.4,546.4"/>
<polyline stroke="#1414f0" points="9.4,546.4 11.9,532.0"/>
<polyline stroke="#d4103c" points="11.9,532.0 13.5,535.8"/>
<polyline stroke="#1414f0" points="13.5,535.8 16.0,528.0"/>
<polyline stroke="#d4103c" points="16.0,528.0 20.0,530.0"/>
<polyline stroke="#1414f0" points="20.0,530.0 22.8,522.6"/>
<polyline stroke="#d4103c" points="22.8,522.6 28.0,535.0"/>
<polyline stroke="#1414f0" points="28.0,535.0 32.8,524.8"/>
<polyline stroke="#d4103c" points="32.8,524.8 36.9,534.5 40.6,538.9"/>
<polyline stroke="#1414f0" points="40.6,538.9 43.0,530.0 48.8,519.0 50.6,518.6 53.0,513.9 55.6,512.6 57.8,510.0 59.4,503.9"/>
<polyline stroke="#d4103c" points="59.4,503.9 61.2,512.0"/>
<polyline stroke="#1414f0" points="61.2,512.0 68.0,504.8"/>
<polyline stroke="#d4103c" points="68.0,504.8 70.0,506.4 73.0,517.6 75.6,519.5 77.5,527.0"/>
<polyline stroke="#1414f0" points="77.5,527.0 79.4,512.0 82.5,504.5 86.2,498.9"/>
<polyline stroke="#d4103c" points="86.2,498.9 88.0,500.0"/>
<polyline stroke="#1414f0" points="88.0,500.0 91.9,492.6"/>
<polyline stroke="#d4103c" points="91.9,492.6 94.4,500.0"/>
<polyline stroke="#1414f0" points="94.4,500.0 98.0,492.0"/>
<polyline stroke="#d4103c" points="98.0,492.0 100.0,495.0 102.5,505.8"/>
<polyline stroke="#1414f0" points="102.5,505.8 105.6,497.6"/>
<polyline stroke="#d4103c" points="105.6,497.6 107.5,498.0 110.6,513.9"/>
<polyline stroke="#1414f0" points="110.6,513.9 115.2,505.0"/>
<polyline stroke="#d4103c" points="115.2,505.0 118.8,509.8"/>
<polyline stroke="#1414f0" points="118.8,509.8 121.9,503.9"/>
<polyline stroke="#d4103c" points="121.9,503.9 125.6,507.0"/>
<polyline stroke="#1414f0" points="125.6,507.0 127.8,500.8 129.4,499.5 131.5,494.2"/>
<polyline stroke="#d4103c" points="131.5,494.2 135.6,513.9 137.5,519.5 140.0,528.9"/>
<polyline stroke="#1414f0" points="140.0,528.9 144.0,516.0"/>
<polyline stroke="#d4103c" points="144.0,516.0 146.5,518.9"/>
<polyline stroke="#1414f0" points="146.5,518.9 148.8,507.0 152.2,505.8 155.6,500.8 157.8,499.5"/>
<polyline stroke="#d4103c" points="157.8,499.5 160.6,507.0 162.5,509.5 164.4,519.5 166.5,540.8"/>
<polyline stroke="#1414f0" points="166.5,540.8 168.5,530.0"/>
<polyline stroke="#d4103c" points="168.5,530.0 170.2,533.5"/>
<polyline stroke="#1414f0" points="170.2,533.5 173.0,529.8"/>
<polyline stroke="#d4103c" points="173.0,529.8 175.0,530.8"/>
<polyline stroke="#1414f0" points="175.0,530.8 179.4,518.0"/>
<polyline stroke="#d4103c" points="179.4,518.0 183.0,531.8"/>
<polyline stroke="#1414f0" points="183.0,531.8 186.0,521.4"/>
<polyline stroke="#d4103c" points="186.0,521.4 187.5,522.6"/>
<polyline stroke="#1414f0" points="187.5,522.6 189.4,517.6 193.0,511.8"/>
<polyline stroke="#d4103c" points="193.0,511.8 195.6,518.2 198.0,522.6"/>
<polyline stroke="#1414f0" points="198.0,522.6 200.0,520.0 201.5,513.9 203.5,510.5 205.6,510.0 208.0,507.0"/>
<polyline stroke="#d4103c" points="208.0,507.0 210.6,513.0"/>
<polyline stroke="#1414f0" points="210.6,513.0 215.6,503.9"/>
<polyline stroke="#d4103c" points="215.6,503.9 218.5,505.8"/>
<polyline stroke="#1414f0" points="218.5,505.8 220.2,501.8"/>
<polyline stroke="#d4103c" points="220.2,501.8 222.5,508.9"/>
<polyline stroke="#1414f0" points="222.5,508.9 224.4,508.0"/>
<polyline stroke="#d4103c" points="224.4,508.0 226.5,518.2"/>
<polyline stroke="#1414f0" points="226.5,518.2 230.0,508.5 233.8,505.8"/>
<polyline stroke="#d4103c" points="233.8,505.8 237.5,515.0"/>
<polyline stroke="#1414f0" points="237.5,515.0 241.2,501.0 243.0,499.5"/>
<polyline stroke="#d4103c" points="243.0,499.5 245.6,501.0"/>
<polyline stroke="#1414f0" points="245.6,501.0 250.6,491.8"/>
<polyline stroke="#d4103c" points="250.6,491.8 252.5,493.2 253.8,503.2 255.6,508.2 259.4,527.0"/>
<polyline stroke="#1414f0" points="259.4,527.0 261.5,513.2 264.4,507.6"/>
<polyline stroke="#d4103c" points="264.4,507.6 268.5,515.0"/>
<polyline stroke="#1414f0" points="268.5,515.0 272.2,505.8"/>
<polyline stroke="#d4103c" points="272.2,505.8 276.2,513.9 278.8,516.4 281.9,523.9 284.4,532.0"/>
<polyline stroke="#1414f0" points="284.4,532.0 286.2,531.0"/>
<polyline stroke="#d4103c" points="286.2,531.0 288.5,533.0"/>
<polyline stroke="#1414f0" points="288.5,533.0 290.2,511.0"/>
<polyline stroke="#d4103c" points="290.2,511.0 294.4,529.8"/>
<polyline stroke="#1414f0" points="294.4,529.8 296.2,521.8"/>
<polyline stroke="#d4103c" points="296.2,521.8 298.8,528.2 300.0,532.0 301.0,543.2 303.0,545.0 305.6,550.0"/>
<polyline stroke="#1414f0" points="305.6,550.0 309.4,540.8"/>
<polyline stroke="#d4103c" points="309.4,540.8 311.2,544.5"/>
<polyline stroke="#1414f0" points="311.2,544.5 313.0,542.0"/>
<polyline stroke="#d4103c" points="313.0,542.0 315.2,547.0"/>
<polyline stroke="#1414f0" points="315.2,547.0 317.5,535.8 321.2,523.2"/>
<polyline stroke="#d4103c" points="321.2,523.2 323.0,523.9"/>
<polyline stroke="#1414f0" points="323.0,523.9 325.2,514.8"/>
<polyline stroke="#d4103c" points="325.2,514.8 327.8,524.5"/>
<polyline stroke="#1414f0" points="327.8,524.5 330.0,523.9"/>
<polyline stroke="#d4103c" points="330.0,523.9 334.4,533.9"/>
<polyline stroke="#1414f0" points="334.4,533.9 336.9,518.2"/>
<polyline stroke="#d4103c" points="336.9,518.2 340.2,526.0"/>
<polyline stroke="#1414f0" points="340.2,526.0 343.8,518.0"/>
<polyline stroke="#d4103c" points="343.8,518.0 346.2,518.2"/>
<polyline stroke="#1414f0" points="346.2,518.2 350.0,510.0 351.9,509.2 354.4,504.8"/>
<polyline stroke="#d4103c" points="354.4,504.8 356.2,508.0"/>
<polyline stroke="#1414f0" points="356.2,508.0 358.8,504.8 362.5,502.0 365.0,501.8 367.5,497.0"/>
<polyline stroke="#d4103c" points="367.5,497.0 369.4,506.4 371.9,512.6 375.6,528.5"/>
<polyline stroke="#1414f0" points="375.6,528.5 377.5,527.6 379.4,522.0"/>
<polyline stroke="#d4103c" points="379.4,522.0 381.2,528.2 383.5,531.4 385.6,536.0"/>
<polyline stroke="#1414f0" points="385.6,536.0 387.5,532.6"/>
<polyline stroke="#d4103c" points="387.5,532.6 389.4,538.2"/>
<polyline stroke="#1414f0" points="389.4,538.2 393.1,525.8 396.2,523.9 398.1,516.4 400.0,516.0"/>
<polyline stroke="#d4103c" points="400.0,516.0 401.5,517.2"/>
<polyline stroke="#1414f0" points="401.5,517.2 404.8,514.8 408.0,500.8 411.9,492.6"/>
<polyline stroke="#d4103c" points="411.9,492.6 415.0,500.8 416.5,501.8"/>
<polyline stroke="#1414f0" points="416.5,501.8 420.0,491.8"/>
<polyline stroke="#d4103c" points="420.0,491.8 421.9,493.2 423.5,498.2 425.6,517.0"/>
<polyline stroke="#1414f0" points="425.6,517.0 427.5,509.8"/>
<polyline stroke="#d4103c" points="427.5,509.8 429.4,514.8"/>
<polyline stroke="#1414f0" points="429.4,514.8 431.5,506.8"/>
<polyline stroke="#d4103c" points="431.5,506.8 433.5,512.0"/>
<polyline stroke="#1414f0" points="433.5,512.0 435.6,508.9"/>
<polyline stroke="#d4103c" points="435.6,508.9 439.8,521.4"/>
<polyline stroke="#1414f0" points="439.8,521.4 441.9,507.6 448.1,500.5 449.4,499.8"/>
<polyline stroke="#d4103c" points="449.4,499.8 451.2,503.9"/>
<polyline stroke="#1414f0" points="451.2,503.9 454.0,497.6"/>
<polyline stroke="#d4103c" points="454.0,497.6 456.9,499.8"/>
<polyline stroke="#1414f0" points="456.9,499.8 461.0,495.1"/>
<polyline stroke="#d4103c" points="461.0,495.1 462.5,495.8 464.8,512.0"/>
<polyline stroke="#1414f0" points="464.8,512.0 466.2,511.8 468.5,507.0"/>
<polyline stroke="#d4103c" points="468.5,507.0 470.6,507.0"/>
<polyline stroke="#1414f0" points="470.6,507.0 473.1,495.5"/>
<polyline stroke="#d4103c" points="473.1,495.5 474.8,495.8 476.5,505.1 480.2,518.2"/>
<polyline stroke="#1414f0" points="480.2,518.2 482.5,511.8"/>
<polyline stroke="#d4103c" points="482.5,511.8 485.6,519.8"/>
<polyline stroke="#1414f0" points="485.6,519.8 489.0,500.1 493.1,494.2"/>
<polyline stroke="#d4103c" points="493.1,494.2 495.6,499.5 497.8,501.0 501.9,518.2 503.5,529.2"/>
<polyline stroke="#1414f0" points="503.5,529.2 505.2,521.8 507.5,519.2 510.0,508.2 515.6,498.0 520.2,492.6"/>
<polyline stroke="#d4103c" points="520.2,492.6 522.2,500.8 524.8,514.2"/>
<polyline stroke="#1414f0" points="524.8,514.2 526.9,505.8 530.6,496.8"/>
<polyline stroke="#d4103c" points="530.6,496.8 534.4,501.0"/>
<polyline stroke="#1414f0" points="534.4,501.0 538.1,494.2"/>
<polyline stroke="#d4103c" points="538.1,494.2 540.6,494.8 544.0,497.2"/>
<polyline stroke="#1414f0" points="544.0,497.2 547.2,494.2"/>
<polyline stroke="#d4103c" points="547.2,494.2 549.8,496.8"/>
<polyline stroke="#1414f0" points="549.8,496.8 551.9,495.8"/>
<polyline stroke="#d4103c" points="551.9,495.8 553.5,519.5 555.6,527.2"/>
<polyline stroke="#1414f0" points="555.6,527.2 557.5,512.0 559.4,505.8"/>
<polyline stroke="#d4103c" points="559.4,505.8 561.5,508.9"/>
<polyline stroke="#1414f0" points="561.5,508.9 563.8,507.6 565.6,502.6"/>
</g>
<g shape-rendering="crispEdges">
<rect x="0" y="0" width="1" height="600" fill="#8f9ca6"/>
<rect x="747" y="21" width="1" height="445" fill="#8796a1"/>
<rect x="747" y="468" width="1" height="113" fill="#8796a1"/>
<rect x="1" y="465" width="747" height="1" fill="#8f9ca6"/>
<rect x="1" y="468" width="747" height="1" fill="#9aa6af"/>
<rect x="1" y="580" width="747" height="1" fill="#8796a1"/>
<rect x="799" y="0" width="1" height="600" fill="#a3aeb7"/>
<rect x="0" y="599" width="800" height="1" fill="#98a4ad"/>
<rect x="748" y="458" width="2" height="1" fill="#8796a1"/>
<rect x="748" y="433" width="4" height="1" fill="#8796a1"/>
<rect x="748" y="410" width="2" height="1" fill="#8796a1"/>
<rect x="748" y="387" width="4" height="1" fill="#8796a1"/>
<rect x="748" y="365" width="2" height="1" fill="#8796a1"/>
<rect x="748" y="345" width="4" height="1" fill="#8796a1"/>
<rect x="748" y="324" width="2" height="1" fill="#8796a1"/>
<rect x="748" y="305" width="4" height="1" fill="#8796a1"/>
<rect x="748" y="286" width="2" height="1" fill="#8796a1"/>
<rect x="748" y="268" width="4" height="1" fill="#8796a1"/>
<rect x="748" y="250" width="2" height="1" fill="#8796a1"/>
<rect x="748" y="233" width="4" height="1" fill="#8796a1"/>
<rect x="748" y="217" width="2" height="1" fill="#8796a1"/>
<rect x="748" y="201" width="4" height="1" fill="#8796a1"/>
<rect x="748" y="185" width="2" height="1" fill="#8796a1"/>
<rect x="748" y="170" width="4" height="1" fill="#8796a1"/>
<rect x="748" y="154" width="2" height="1" fill="#8796a1"/>
<rect x="748" y="140" width="4" height="1" fill="#8796a1"/>
<rect x="748" y="126" width="2" height="1" fill="#8796a1"/>
<rect x="748" y="112" width="4" height="1" fill="#8796a1"/>
<rect x="748" y="99" width="2" height="1" fill="#8796a1"/>
<rect x="748" y="85" width="4" height="1" fill="#8796a1"/>
<rect x="748" y="72" width="2" height="1" fill="#8796a1"/>
<rect x="748" y="60" width="4" height="1" fill="#8796a1"/>
<rect x="748" y="47" width="2" height="1" fill="#8796a1"/>
<rect x="748" y="35" width="4" height="1" fill="#8796a1"/>
<rect x="748" y="24" width="2" height="1" fill="#8796a1"/>
<rect x="748" y="574" width="4" height="1" fill="#8796a1"/>
<rect x="748" y="563" width="2" height="1" fill="#8796a1"/>
<rect x="748" y="551" width="4" height="1" fill="#8796a1"/>
<rect x="748" y="539" width="2" height="1" fill="#8796a1"/>
<rect x="748" y="528" width="4" height="1" fill="#8796a1"/>
<rect x="748" y="516" width="2" height="1" fill="#8796a1"/>
<rect x="748" y="505" width="4" height="1" fill="#8796a1"/>
<rect x="748" y="493" width="2" height="1" fill="#8796a1"/>
<rect x="748" y="482" width="4" height="1" fill="#8796a1"/>
<rect x="748" y="470" width="2" height="1" fill="#8796a1"/>
<rect x="24" y="581" width="1" height="4" fill="#8796a1"/>
<rect x="131" y="581" width="1" height="4" fill="#8796a1"/>
<rect x="239" y="581" width="1" height="4" fill="#8796a1"/>
<rect x="346" y="581" width="1" height="4" fill="#8796a1"/>
<rect x="456" y="581" width="1" height="4" fill="#8796a1"/>
<rect x="563" y="581" width="1" height="4" fill="#8796a1"/>
<rect x="671" y="581" width="1" height="4" fill="#8796a1"/>
</g>
<g shape-rendering="crispEdges"><rect x="1" y="21" width="23" height="14" fill="url(#tab)"/><rect x="1" y="34" width="23" height="1" fill="#9eaab2"/><rect x="23" y="21" width="1" height="14" fill="#9eaab2"/>
<rect x="1" y="469" width="44" height="14" fill="url(#tab)"/><rect x="1" y="482" width="44" height="1" fill="#9eaab2"/><rect x="44" y="469" width="1" height="14" fill="#9eaab2"/></g>
<text x="3.2" y="31" font-size="11" fill="#2b5530" stroke="#2b5530" stroke-width=".2" textLength="17.8" lengthAdjust="spacingAndGlyphs">Prix</text>
<text x="3.7" y="479.3" font-size="11" fill="#0808ff" stroke="#0808ff" stroke-width=".2" textLength="38.8" lengthAdjust="spacingAndGlyphs">RSI (10)</text>
<g shape-rendering="crispEdges"><rect x="6" y="8" width="1" height="11" fill="#c03535"/><rect x="3" y="10" width="7" height="7" fill="#c03535"/><rect x="4" y="11" width="5" height="5" fill="#f98585"/><rect x="14" y="3" width="1" height="16" fill="#14a014"/><rect x="11" y="6" width="7" height="10" fill="#14a014"/><rect x="12" y="7" width="5" height="8" fill="#72e272"/></g>
<text x="23.5" y="15" font-size="11" font-weight="bold" fill="#0a0a14" textLength="98.0" lengthAdjust="spacingAndGlyphs">PXI - CAC 40 INDEX</text>
<text x="134" y="15" font-size="11" font-weight="bold" fill="#0a0a14" textLength="86.5" lengthAdjust="spacingAndGlyphs">4 319,27 (-0,30%)</text>
<text x="233.5" y="15" font-size="11" font-weight="bold" fill="#0a0a14" textLength="34.0" lengthAdjust="spacingAndGlyphs">Hebdo</text>
<text x="275" y="15" font-size="11" font-weight="bold" fill="#0a0a14" textLength="66" lengthAdjust="spacingAndGlyphs">16 janv. 2014</text>
<text x="667.5" y="14.6" font-size="12" font-weight="bold" fill="#0a0a14" textLength="128.8" lengthAdjust="spacingAndGlyphs">www.ProRealTime.com</text>
<text x="754" y="437.1" class="ax" textLength="26.5" lengthAdjust="spacingAndGlyphs">2 400</text>
<text x="754" y="391.1" class="ax" textLength="26.5" lengthAdjust="spacingAndGlyphs">2 600</text>
<text x="754" y="349.1" class="ax" textLength="26.5" lengthAdjust="spacingAndGlyphs">2 800</text>
<text x="754" y="309.1" class="axb" textLength="30" lengthAdjust="spacingAndGlyphs">3 000</text>
<text x="754" y="272.1" class="ax" textLength="26.5" lengthAdjust="spacingAndGlyphs">3 200</text>
<text x="754" y="237.1" class="ax" textLength="26.5" lengthAdjust="spacingAndGlyphs">3 400</text>
<text x="754" y="205.1" class="ax" textLength="26.5" lengthAdjust="spacingAndGlyphs">3 600</text>
<text x="754" y="174.1" class="ax" textLength="26.5" lengthAdjust="spacingAndGlyphs">3 800</text>
<text x="754" y="144.1" class="axb" textLength="30" lengthAdjust="spacingAndGlyphs">4 000</text>
<text x="754" y="116.1" class="ax" textLength="26.5" lengthAdjust="spacingAndGlyphs">4 200</text>
<text x="754" y="64.1" class="ax" textLength="26.5" lengthAdjust="spacingAndGlyphs">4 600</text>
<text x="754" y="486.1" class="ax">80</text>
<text x="754" y="532.1" class="ax">40</text>
<text x="754" y="555.1" class="ax">20</text>
<text x="754" y="578.1" class="axb">0</text>
<text x="12.7" y="596" class="ax" textLength="23.3" lengthAdjust="spacingAndGlyphs">2009</text>
<text x="119.7" y="596" class="ax" textLength="23.3" lengthAdjust="spacingAndGlyphs">2010</text>
<text x="227.7" y="596" class="ax" textLength="23.3" lengthAdjust="spacingAndGlyphs">2011</text>
<text x="334.7" y="596" class="ax" textLength="23.3" lengthAdjust="spacingAndGlyphs">2012</text>
<text x="444.7" y="596" class="ax" textLength="23.3" lengthAdjust="spacingAndGlyphs">2013</text>
<text x="551.7" y="596" class="ax" textLength="23.3" lengthAdjust="spacingAndGlyphs">2014</text>
<text x="659.7" y="596" class="ax" textLength="23.3" lengthAdjust="spacingAndGlyphs">2015</text>
<g shape-rendering="crispEdges"><rect x="752.5" y="88.5" width="45" height="15" fill="url(#yl)" stroke="#8a99a8"/><rect x="752.5" y="494.5" width="35" height="15" fill="url(#rl)" stroke="#8e9ba3"/></g>
<text x="754.5" y="100.2" font-size="11" fill="#000" textLength="41" lengthAdjust="spacingAndGlyphs">4 319,27</text>
<text x="754.3" y="506" font-size="11" fill="#1c1ce8" textLength="32" lengthAdjust="spacingAndGlyphs">62,109</text>
<text x="2.8" y="463" font-size="11" fill="#2c5220" stroke="#2c5220" stroke-width=".15" textLength="93.5" lengthAdjust="spacingAndGlyphs">© ProRealTime.com</text>
<text x="683.2" y="55.5" class="lb" textLength="23.6" lengthAdjust="spacingAndGlyphs">4560</text>
<text x="671" y="83.5" class="lb" textLength="23.6" lengthAdjust="spacingAndGlyphs">4310</text>
<text x="654" y="114.5" class="lb" textLength="23.6" lengthAdjust="spacingAndGlyphs">4170</text>
<text x="609" y="144.5" class="lb" textLength="23.6" lengthAdjust="spacingAndGlyphs">3930</text>
<text x="598.5" y="489" class="lb" textLength="11.3" lengthAdjust="spacingAndGlyphs">70</text>
<text x="592.2" y="515.8" class="lb" textLength="11.5" lengthAdjust="spacingAndGlyphs">46</text>
</svg></body></html>
